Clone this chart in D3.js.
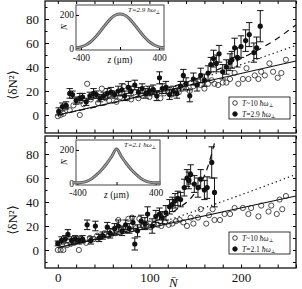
<!DOCTYPE html>
<html>
<head>
<meta charset="utf-8">
<script src="https://cdn.jsdelivr.net/npm/d3@7"></script>
<style>
  body { margin: 0; background: #fff; }
  text { font-family: "Liberation Serif", "DejaVu Serif", serif; fill: #111; }
</style>
</head>
<body>
<svg id="chart" width="302" height="289"></svg>
<script>
//************* data ***************/
var yTickLabels = [0, 20, 40, 60, 80];
var nTickLabels = [0, 100, 200];

// top panel : T~10 (open) and T=2.9 (filled, with error)
var hotTop = [[0,-1],[3,0],[6,1],[9,7],[13,4],[17,8],[24,0],[28,9],[32,26],[36,13],[40,17],[44,10],[48,22],[52,14],
  [56,12],[60,18],[64,11],[68,15],[72,24],[76,14],[80,13],[84,19],[88,14],[92,16],[96,22],[100,15],[104,21],[108,18],
  [112,14],[116,18],[120,22],[124,17],[128,20],[132,19],[136,23],[140,22],[144,20],[148,24],[152,26],[156,25],[160,22],
  [164,26],[168,29],[171,26],[175,25],[180,27],[184,27],[188,30],[193,35],[197,26],[202,30],[206,39],[208,30],[215,33],
  [219,30],[222,36],[226,33],[231,43],[235,36],[240,31],[244,35],[249,46]];
var coldTop = [[1,3,3],[5,7,3],[9,8,3],[13,18,4],[16,17,3],[20,12,3],[24,14,4],[27,15,3],[31,11,3],[35,16,3],[39,18,4],
  [42,17,3],[46,14,3],[50,16,3],[54,18,4],[58,19,4],[62,17,3],[66,20,4],[70,21,5],[73,16,4],[77,23,5],[80,20,4],[84,25,4],
  [88,19,4],[92,22,4],[96,18,4],[100,20,4],[104,21,4],[108,16,4],[111,31,5],[114,22,4],[118,23,5],[122,17,4],[126,20,4],
  [130,18,4],[134,24,4],[137,33,5],[140,26,5],[144,16,5],[148,30,5],[152,25,5],[156,33,6],[160,29,5],[164,35,6],[167,42,6],
  [170,47,7],[173,43,7],[176,51,7],[180,36,6],[184,40,6],[188,44,7],[190,46,7],[193,56,8],[196,48,8],[200,57,9],[205,62,9],
  [209,67,10],[214,52,8],[217,56,9],[221,74,13]];
var solidTop = [[0,0],[260,45]];
var dottedTop = [[0,0],[100,18],[150,29],[200,42],[260,58]];
var dashedTop = [[0,0],[100,18],[150,30],[200,47],[236,62],[260,75]];

// bottom panel : T~10 (open) and T=2.1 (filled, with error)
var hotBot = [[0,0],[3,0],[6,0],[10,4],[14,5],[18,6],[23,0],[27,8],[31,6],[35,10],[39,9],[43,12],[47,11],[51,14],[55,12],
  [59,15],[63,14],[66,25],[70,17],[74,19],[77,26],[81,27],[85,18],[89,26],[93,20],[97,21],[101,19],[105,22],[109,21],
  [113,20],[117,23],[121,21],[125,22],[129,24],[133,25],[137,23],[141,20],[145,27],[148,22],[153,27],[156,34],[162,22],
  [165,29],[169,34],[171,25],[177,25],[182,30],[188,30],[193,35],[202,35],[208,30],[211,35],[219,28],[222,37],[230,32],
  [233,37],[239,30],[242,42],[245,34],[249,45]];
var coldBot = [[0,5.5,2],[4,8,3],[8,9,3],[11,13,4],[15,8,3],[19,9,3],[23,8,3],[27,9,3],[32,21,4],[36,8,3],[41,20,4],
  [45,10,3],[49,12,3],[54,19,4],[57,14,4],[62,18,4],[66,20,5],[70,16,4],[74,21,4],[78,18,4],[82,23,5],[84,5,5],[87,16,5],
  [91,24,5],[95,22,5],[98,30,6],[103,20,6],[107,28,5],[111,30,5],[114,27,5],[118,31,6],[122,36,6],[125,38,6],[128,41,6],
  [131,43,6],[134,42,6],[138,52,7],[141,60,7],[143,58,7],[145,63,8],[149,55,7],[153,52,8],[156,59,8],[160,50,8],
  [163,52,9],[168,73,13],[171,48,12]];
var solidBot = [[0,2],[260,45]];
var dottedBot = [[0,2],[100,20],[148,32],[200,46],[260,63]];
var dashedBot = [[0,2],[50,11],[100,22],[130,34],[150,48],[164,70],[172,92]];

// insets: density profiles
var insetZ = [-450,-400,-350,-300,-250,-200,-150,-100,-50,0,50,100,150,200,250,300,350,400,450];
var insetTop = [2,7,18,38,67,102,140,175,198,206,198,175,140,102,67,38,18,7,2];
var insetBot = [1,1.5,4,12,28,52,82,118,160,205,160,118,82,52,28,12,4,1.5,1];

var legendTop = ["T~10 ", "T=2.9 "];
var legendBot = ["T~10 ", "T=2.1 "];

//************* setup svg ***************/
var svg = d3.select("#chart");
var x = d3.scaleLinear().domain([-14, 260]).range([45, 296]);

function drawPanel(top, bottom, hot, cold, solid, dotted, dashed, inset, tLabel, legend, showX, id) {
  var y = d3.scaleLinear().domain([-15, 95]).range([bottom, top]);
  var g = svg.append("g");

  g.append("clipPath").attr("id", id)
    .append("rect").attr("x", 45).attr("y", top).attr("width", 251).attr("height", bottom - top);

  // axes (ticks inward)
  g.append("g").attr("transform", "translate(45,0)")
    .call(d3.axisLeft(y).tickValues(yTickLabels).tickSize(-4).tickPadding(6).tickFormat(d3.format("d")))
    .call(function(a){ a.select(".domain").remove(); a.selectAll("text").style("font-size", "13px").attr("font-family", "Liberation Serif"); });
  g.append("g").attr("transform", "translate(45,0)")
    .call(d3.axisLeft(y).tickValues([-10,10,30,50,70,90]).tickSize(-2.5).tickFormat(""))
    .call(function(a){ a.select(".domain").remove(); });
  g.append("g").attr("transform", "translate(296,0)")
    .call(d3.axisRight(y).tickValues(d3.range(-10, 95, 10)).tickSize(-3).tickFormat(""))
    .call(function(a){ a.select(".domain").remove(); });
  g.append("g").attr("transform", "translate(0," + bottom + ")")
    .call(d3.axisBottom(x).tickValues(d3.range(0, 261, 20)).tickSize(-3.5).tickFormat(""))
    .call(function(a){ a.select(".domain").remove(); });
  if (showX) {
    g.append("g").attr("transform", "translate(0," + bottom + ")")
      .call(d3.axisBottom(x).tickValues(nTickLabels).tickSize(0).tickPadding(5))
      .call(function(a){ a.select(".domain").remove(); a.selectAll("text").style("font-size", "13px").attr("font-family", "Liberation Serif"); });
  }
  g.append("g").attr("transform", "translate(0," + top + ")")
    .call(d3.axisTop(x).tickValues(d3.range(0, 261, 20)).tickSize(-3).tickFormat(""))
    .call(function(a){ a.select(".domain").remove(); });

  var plot = g.append("g").attr("clip-path", "url(#" + id + ")");
  var line = d3.line().x(function(d){ return x(d[0]); }).y(function(d){ return y(d[1]); }).curve(d3.curveMonotoneX);

  plot.append("path").attr("d", line(solid)).attr("fill", "none").attr("stroke", "#111").attr("stroke-width", 1.2);
  plot.append("path").attr("d", line(dotted)).attr("fill", "none").attr("stroke", "#111").attr("stroke-width", 1.2).attr("stroke-dasharray", "1.3,3");
  plot.append("path").attr("d", line(dashed)).attr("fill", "none").attr("stroke", "#111").attr("stroke-width", 1.2).attr("stroke-dasharray", "6,5");

  plot.append("g").selectAll("circle").data(hot).enter().append("circle")
    .attr("cx", function(d){ return x(d[0]); }).attr("cy", function(d){ return y(d[1]); })
    .attr("r", 2.6).attr("fill", "none").attr("stroke", "#222").attr("stroke-width", 0.8);

  var eb = plot.append("g").selectAll("g").data(cold).enter().append("g").attr("stroke", "#111").attr("stroke-width", 1);
  eb.append("line").attr("x1", function(d){ return x(d[0]); }).attr("x2", function(d){ return x(d[0]); })
    .attr("y1", function(d){ return y(d[1] - d[2]); }).attr("y2", function(d){ return y(d[1] + d[2]); });
  eb.append("line").attr("x1", function(d){ return x(d[0]) - 3.2; }).attr("x2", function(d){ return x(d[0]) + 3.2; })
    .attr("y1", function(d){ return y(d[1] + d[2]); }).attr("y2", function(d){ return y(d[1] + d[2]); });
  eb.append("line").attr("x1", function(d){ return x(d[0]) - 3.2; }).attr("x2", function(d){ return x(d[0]) + 3.2; })
    .attr("y1", function(d){ return y(d[1] - d[2]); }).attr("y2", function(d){ return y(d[1] - d[2]); });
  eb.append("circle").attr("cx", function(d){ return x(d[0]); }).attr("cy", function(d){ return y(d[1]); })
    .attr("r", 2.6).attr("fill", "#111").attr("stroke", "none");

  // frame
  g.append("rect").attr("x", 45).attr("y", top).attr("width", 251).attr("height", bottom - top)
    .attr("fill", "none").attr("stroke", "#111").attr("stroke-width", 1.3);

  // y label
  g.append("text").attr("transform", "translate(17," + (y(25)) + ") rotate(-90)")
    .attr("text-anchor", "middle").style("font-size", "13px").text("⟨δN²⟩");

  // inset
  var iz = d3.scaleLinear().domain(inset.zdom).range([76, inset.right]);
  var iy = d3.scaleLinear().domain([-12, 260]).range([top + 49, top + 4]);
  var ig = g.append("g");
  ig.append("rect").attr("x", 76).attr("y", top + 4).attr("width", inset.right - 76).attr("height", 45)
    .attr("fill", "#fff").attr("stroke", "#444").attr("stroke-width", 1);
  ig.append("g").attr("transform", "translate(76,0)")
    .call(d3.axisLeft(iy).tickValues([0, 200]).tickSize(-3).tickPadding(2))
    .call(function(a){ a.select(".domain").remove(); a.selectAll("text").style("font-size", "9.5px").attr("font-family", "Liberation Serif"); });
  ig.append("g").attr("transform", "translate(0," + (top + 49) + ")")
    .call(d3.axisBottom(iz).tickValues([-400, 0, 400]).tickSize(-3).tickPadding(4).tickFormat(function(d){ return d === 0 ? "" : d; }))
    .call(function(a){ a.select(".domain").remove(); a.selectAll("text").style("font-size", "9.5px").attr("font-family", "Liberation Serif"); });
  ig.append("text").attr("x", iz(0)).attr("y", top + 62).attr("text-anchor", "middle").style("font-size", "9.5px")
    .html("<tspan font-style='italic'>z</tspan> (μm)");
  ig.append("text").attr("transform", "translate(" + 67 + "," + (top + 26) + ") rotate(-90)")
    .attr("text-anchor", "middle").style("font-size", "9px").style("font-style", "italic").text("N̄");
  var iline = d3.line().x(function(d, i){ return iz(insetZ[i]); }).y(function(d){ return iy(d); }).curve(d3.curveCatmullRom);
  ig.append("path").attr("d", iline(inset.n)).attr("fill", "none").attr("stroke", "#555").attr("stroke-width", 3);
  ig.append("path").attr("d", iline(inset.n)).attr("fill", "none").attr("stroke", "#999").attr("stroke-width", 1.4);
  ig.append("text").attr("x", inset.right - 36).attr("y", top + 11).style("font-size", "7px").style("font-style", "italic")
    .html(tLabel + "<tspan font-style='italic'>ħω</tspan><tspan font-size='5px' dy='1.5'>⊥</tspan>");

  // legend
  var lx = 229, ly = bottom - 36;
  var lg = g.append("g");
  lg.append("rect").attr("x", lx).attr("y", ly).attr("width", 61).attr("height", 22)
    .attr("fill", "#fff").attr("stroke", "#222").attr("stroke-width", 0.9);
  legend.forEach(function(t, i){
    var cy = ly + 6 + i * 11;
    lg.append("circle").attr("cx", lx + 6).attr("cy", cy).attr("r", 2.3)
      .attr("fill", i === 0 ? "none" : "#111").attr("stroke", "#111").attr("stroke-width", 0.8);
    lg.append("text").attr("x", lx + 13).attr("y", cy + 2.6).style("font-size", "7.5px")
      .html("<tspan font-style='italic'>T</tspan>" + t.slice(1) + "<tspan font-style='italic'>ħω</tspan><tspan font-size='5px' dy='1.5'>⊥</tspan>");
  });
  return g;
}

drawPanel(1, 133, hotTop, coldTop, solidTop, dottedTop, dashedTop,
  { zdom: [-450, 450], right: 164, n: insetTop }, "T=2.9 ", legendTop, false, "clipTop");
drawPanel(136, 268, hotBot, coldBot, solidBot, dottedBot, dashedBot,
  { zdom: [-415, 445], right: 160, n: insetBot }, "T=2.1 ", legendBot, true, "clipBot");

svg.append("text").attr("x", x(126)).attr("y", 287).attr("text-anchor", "middle")
  .style("font-size", "13px").style("font-style", "italic").text("N̄");
</script>
</body>
</html>
